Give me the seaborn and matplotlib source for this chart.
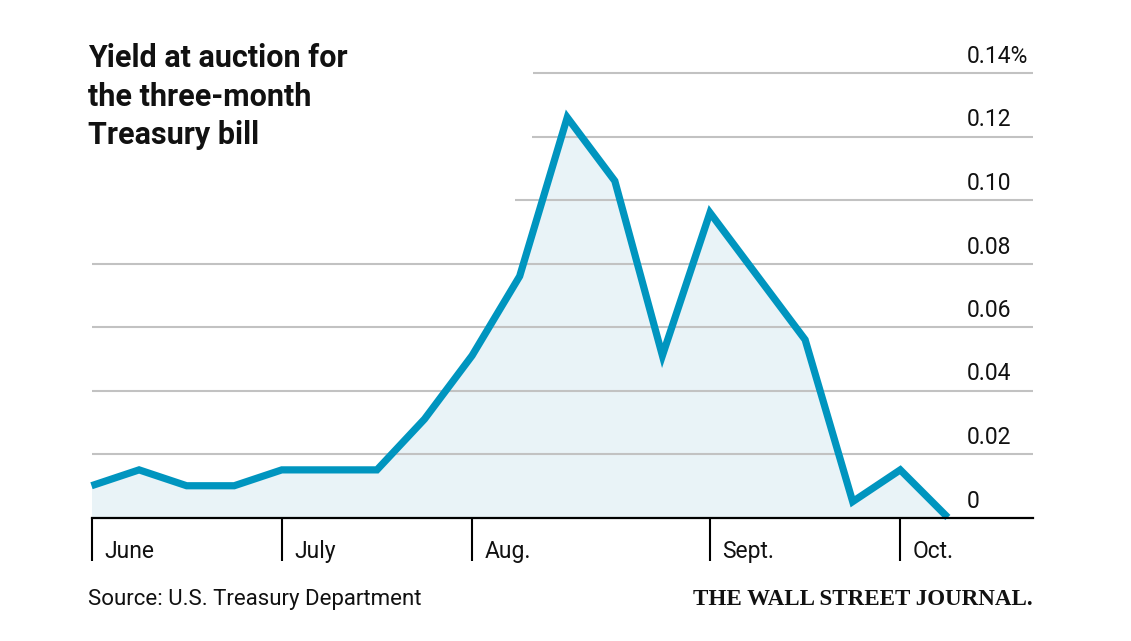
import matplotlib
matplotlib.use("Agg")
import matplotlib.pyplot as plt
import seaborn as sns
import pandas as pd

# ---- data ----
week_index = list(range(19))
yield_pct = [0.010, 0.015, 0.010, 0.010, 0.015, 0.015, 0.015, 0.031, 0.051,
             0.076, 0.126, 0.106, 0.051, 0.096, 0.076, 0.056, 0.005, 0.015, 0.000]
month_labels = ["June", "July", "Aug.", "Sept.", "Oct."]
month_tick_index = [0, 4, 8, 13, 17]
y_ticks = [0, 0.02, 0.04, 0.06, 0.08, 0.10, 0.12, 0.14]
y_tick_labels = ["0", "0.02", "0.04", "0.06", "0.08", "0.10", "0.12", "0.14%"]
title_lines = ["Yield at auction for", "the three-month", "Treasury bill"]
source_text = "Source: U.S. Treasury Department"
brand_text = "THE WALL STREET JOURNAL."

df = pd.DataFrame({"week": week_index, "yield": yield_pct})

sns.set_theme(style="white")
plt.rcParams["font.family"] = ["Roboto", "DejaVu Sans"]

W, H = 1131, 641
fig = plt.figure(figsize=(W / 100, H / 100), dpi=100)
ax = fig.add_axes([91.5 / W, 1 - 517.5 / H, 941.5 / W, 444.5 / H])

LINE = "#0095BF"
FILL = "#E9F3F7"
GRID = "#C2C2C2"
TEXT = "#111111"

ax.fill_between(df["week"], 0, df["yield"], color=FILL, lw=0, zorder=1)

# gridlines (upper ones start later, leaving room for title)
grid_start = {0.14: 9.28, 0.12: 9.26, 0.10: 8.90}
for yv in y_ticks[1:]:
    ax.hlines(yv, grid_start.get(round(yv, 2), 0), 19.79, color=GRID, lw=1.5,
              zorder=2, clip_on=False)

sns.lineplot(data=df, x="week", y="yield", ax=ax, color=LINE, lw=5.2,
             zorder=3, clip_on=False, solid_joinstyle="miter", solid_capstyle="butt")

ax.set_xlim(0, 19.79)
ax.set_ylim(0, 0.14)
ax.set_xlabel("")
ax.set_ylabel("")
for s in ["top", "left", "right"]:
    ax.spines[s].set_visible(False)
ax.spines["bottom"].set_color("black")
ax.spines["bottom"].set_linewidth(1.6)
ax.spines["bottom"].set_zorder(4)
ax.set_facecolor("none")
ax.set_yticks([])
ax.set_xticks(month_tick_index)
ax.tick_params(axis="x", length=31, width=1.5, color="black", direction="out",
               labelbottom=False, bottom=True)

# y labels on right, above gridlines
for yv, lab in zip(y_ticks, y_tick_labels):
    ax.annotate(lab, xy=(0.930, yv), xycoords=("axes fraction", "data"),
                xytext=(0, 7.2), textcoords="offset points", ha="left", va="baseline",
                fontsize=16.5, fontweight="normal", color=TEXT)

# month labels
for idx, lab in zip(month_tick_index, month_labels):
    ax.annotate(lab, xy=(idx, 0), xycoords=("data", "axes fraction"),
                xytext=(9, -29.5), textcoords="offset points", ha="left", va="baseline",
                fontsize=16.5, fontweight="normal", color=TEXT)

# title
for line, base in zip(title_lines, [67, 105.5, 144]):
    fig.text(88 / W, 1 - base / H, line, ha="left", va="baseline", fontsize=22,
             fontweight="bold", color=TEXT)

fig.text(88 / W, 1 - 605 / H, source_text, ha="left", va="baseline", fontsize=16,
         fontweight="normal", color=TEXT)
fig.text(1033 / W, 1 - 605 / H, brand_text, ha="right", va="baseline", fontsize=16.6,
         fontweight="bold", family=["Liberation Serif", "DejaVu Serif"], color=TEXT)

fig.savefig("out.png", dpi=100, facecolor="white")
